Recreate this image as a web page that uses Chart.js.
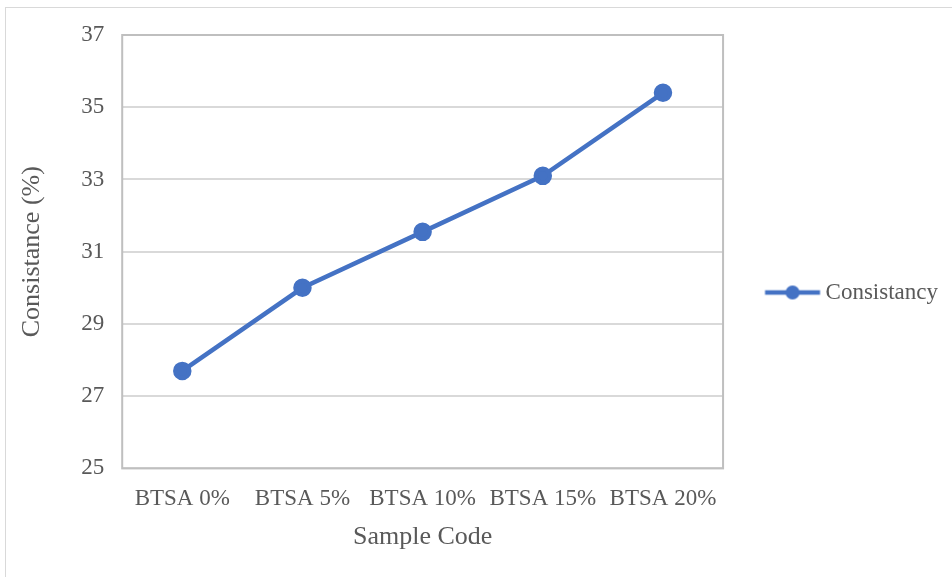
<!DOCTYPE html>
<html>
<head>
<meta charset="utf-8">
<script src="https://cdn.jsdelivr.net/npm/chart.js@4"></script>
<style>
  html, body { margin: 0; padding: 0; background: #ffffff; }
  #wrap { width: 952px; height: 577px; position: relative; }
</style>
</head>
<body>
<div id="wrap"><canvas id="chart" width="952" height="577"></canvas></div>
<script>
// Sample codes and measured consistency values
const categories = ['BTSA 0%', 'BTSA 5%', 'BTSA 10%', 'BTSA 15%', 'BTSA 20%'];
const consistency = [27.7, 30.0, 31.55, 33.1, 35.4];
const yTicks = [25, 27, 29, 31, 33, 35, 37];

const LINE = '#4472C4';
const TEXT = '#595959';
const FONT = "'Liberation Serif', 'Times New Roman', serif";

// Legend symbol: a short line with a round marker in the middle,
// drawn at the right-hand side of a wider transparent strip
function legendSymbol() {
  const c = document.createElement('canvas');
  c.width = 102; c.height = 16;
  const g = c.getContext('2d');
  g.strokeStyle = LINE; g.lineWidth = 4.5; g.lineCap = 'butt';
  g.beginPath(); g.moveTo(42.5, 8); g.lineTo(97.5, 8); g.stroke();
  g.fillStyle = LINE;
  g.beginPath(); g.arc(70, 8, 7, 0, Math.PI * 2); g.fill();
  return c;
}
const symbol = legendSymbol();

// Outer frame of the figure and the box around the plot area
const frames = {
  id: 'frames',
  beforeDraw(chart) {
    const ctx = chart.ctx;
    ctx.save();
    ctx.strokeStyle = '#d9d9d9';
    ctx.lineWidth = 1;
    ctx.strokeRect(5.5, 7.5, 1000, 700);
    ctx.restore();
  },
  beforeDatasetsDraw(chart) {
    const a = chart.chartArea, ctx = chart.ctx;
    ctx.save();
    ctx.strokeStyle = '#bfbfbf';
    ctx.lineWidth = 2;
    ctx.strokeRect(a.left, a.top, a.right - a.left, a.bottom - a.top);
    ctx.restore();
  }
};

new Chart(document.getElementById('chart'), {
  type: 'line',
  data: {
    labels: categories,
    datasets: [{
      label: 'Consistancy',
      data: consistency,
      borderColor: LINE,
      backgroundColor: LINE,
      borderWidth: 4.5,
      pointRadius: 7,
      pointHoverRadius: 7,
      pointBackgroundColor: LINE,
      pointBorderColor: LINE,
      tension: 0
    }]
  },
  options: {
    responsive: false,
    animation: false,
    devicePixelRatio: 1,
    layout: { padding: { left: 17, top: 35, right: 4, bottom: 27 } },
    plugins: {
      tooltip: { enabled: false },
      legend: {
        position: 'right',
        labels: {
          usePointStyle: true,
          pointStyleWidth: 81,
          boxHeight: 16,
          color: TEXT,
          font: { family: FONT, size: 23 },
          padding: 10,
          generateLabels(chart) {
            return chart.data.datasets.map((ds, i) => ({
              text: ds.label,
              pointStyle: symbol,
              fontColor: TEXT,
              lineWidth: 0,
              strokeStyle: 'transparent',
              fillStyle: LINE,
              hidden: false,
              datasetIndex: i
            }));
          }
        }
      }
    },
    scales: {
      x: {
        offset: true,
        grid: { display: false, drawTicks: false },
        border: { display: false },
        ticks: { color: TEXT, font: { family: FONT, size: 23 }, padding: 17, maxRotation: 0, autoSkip: false },
        title: { display: true, text: 'Sample Code', color: TEXT, font: { family: FONT, size: 26, lineHeight: 1 }, padding: { top: -6, bottom: 0 } }
      },
      y: {
        min: 25, max: 37,
        afterBuildTicks(axis) { axis.ticks = yTicks.map(v => ({ value: v })); },
        grid: { color: '#d9d9d9', lineWidth: 2, drawTicks: false },
        border: { display: false },
        ticks: { color: TEXT, font: { family: FONT, size: 23 }, padding: 18 },
        title: { display: true, text: 'Consistance (%)', color: TEXT, font: { family: FONT, size: 26 }, padding: { top: 0, bottom: 15 } }
      }
    }
  },
  plugins: [frames]
});
</script>
</body>
</html>
